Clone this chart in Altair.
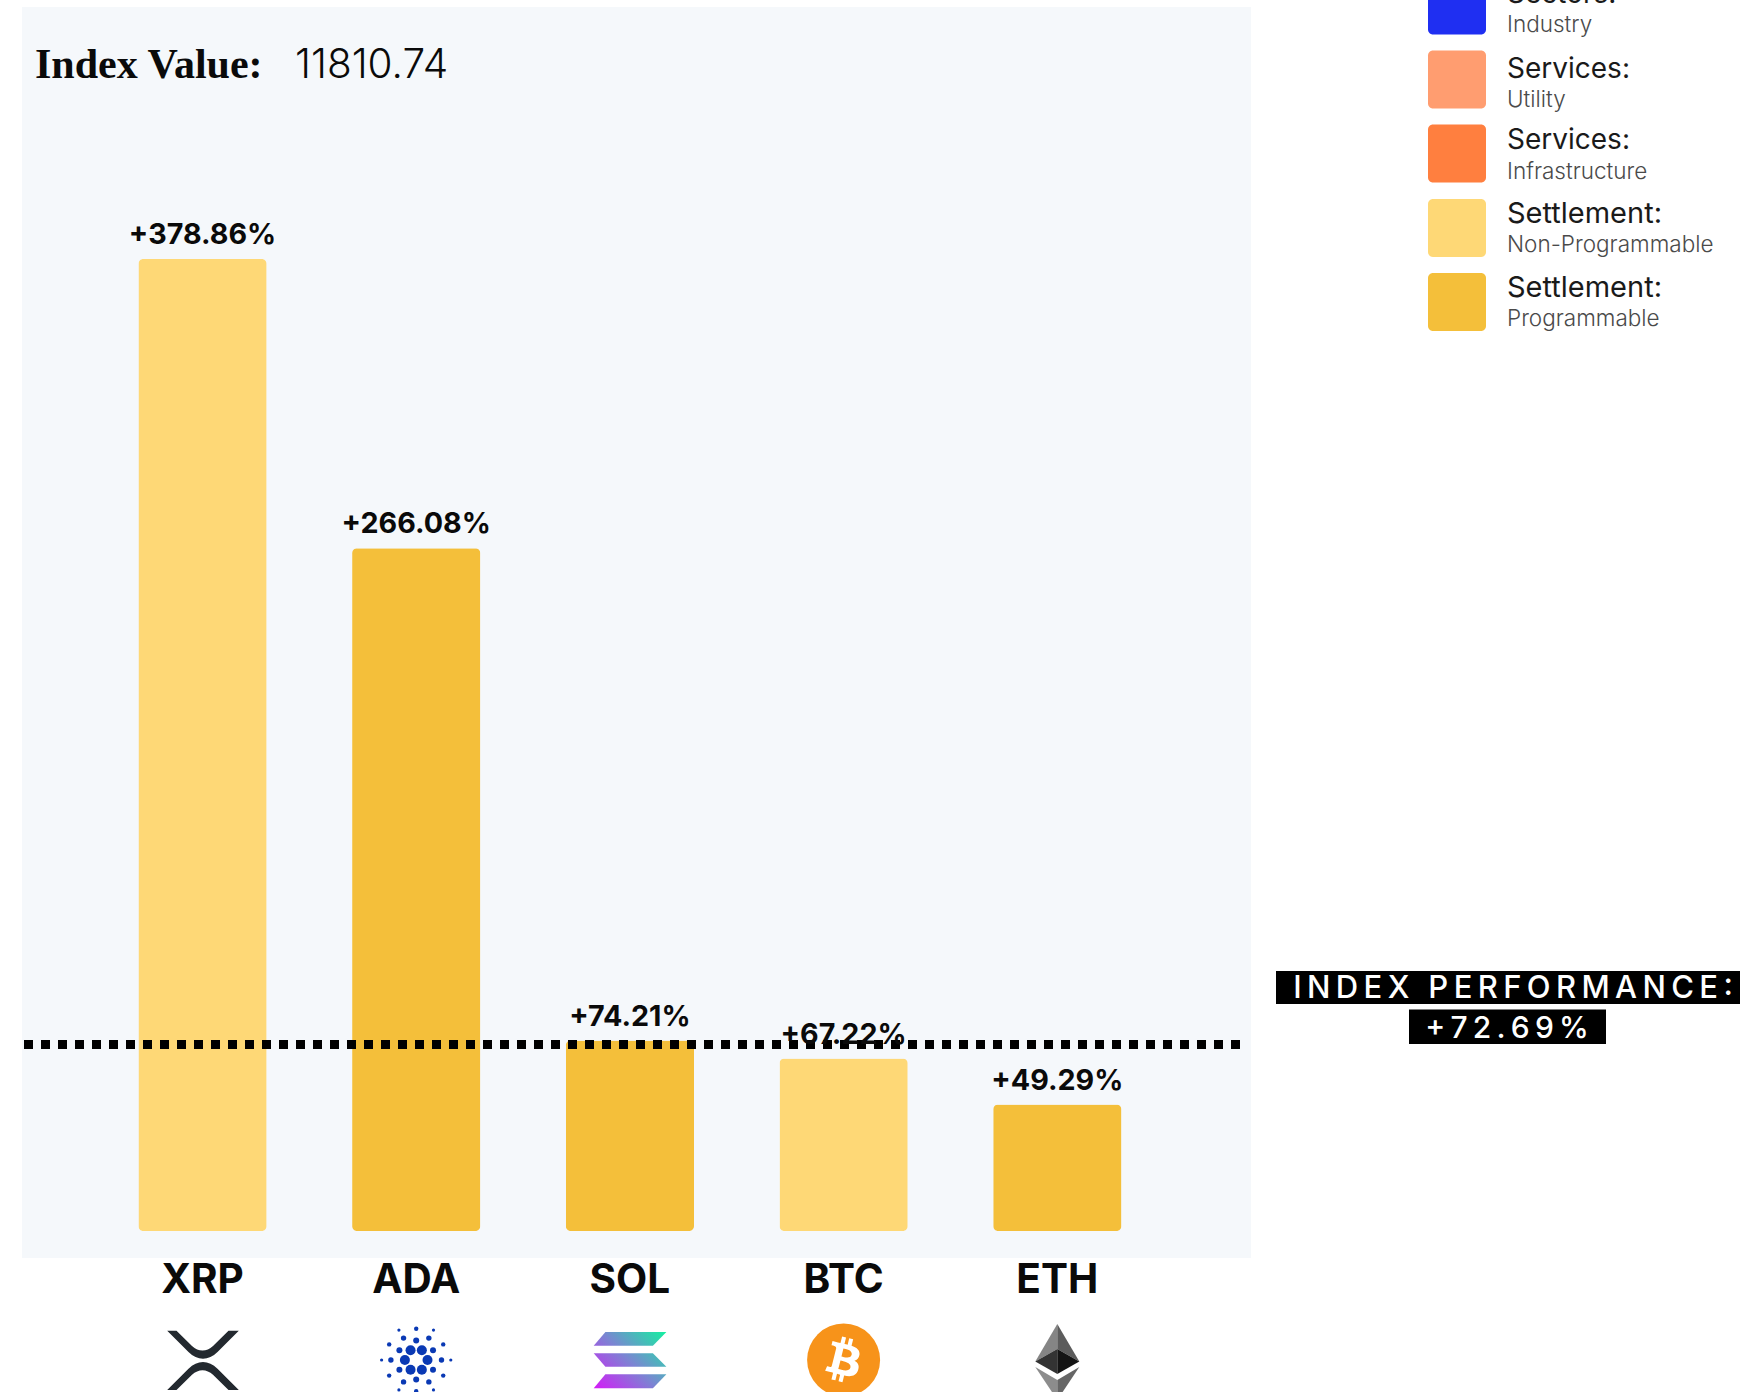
import math
from urllib.parse import quote

import altair as alt
import pandas as pd

# Index constituents and their performance
tickers = ["XRP", "ADA", "SOL", "BTC", "ETH"]
changes = [378.86, 266.08, 74.21, 67.22, 49.29]
sectors = [
    "Settlement: Non-Programmable",
    "Settlement: Programmable",
    "Settlement: Programmable",
    "Settlement: Non-Programmable",
    "Settlement: Programmable",
]
index_value = "11810.74"
index_performance = 72.69

# Sector key
legend_heads = ["Sectors:", "Services:", "Services:", "Settlement:", "Settlement:"]
legend_subs = ["Industry", "Utility", "Infrastructure", "Non-Programmable", "Programmable"]
legend_colors = ["#1f2ff2", "#ff9d70", "#ff7f3f", "#fed876", "#f4bf3a"]

SANS = "Inter"
WIDTH, HEIGHT = 1740, 1392


def svg_uri(body):
    svg = f'<svg xmlns="http://www.w3.org/2000/svg" width="80" height="80" viewBox="0 0 80 80">{body}</svg>'
    return "data:image/svg+xml," + quote(svg)


def cardano_dots():
    rings = [
        (11.3, 0, 5.0), (19.4, 30, 3.0), (25.3, 0, 2.7),
        (31.2, 30, 2.2), (34.6, 0, 1.6),
    ]
    dots = []
    for radius, offset, size in rings:
        for k in range(6):
            a = math.radians(offset + 60 * k)
            dots.append(
                f'<circle cx="{40 + radius * math.cos(a):.2f}" cy="{40 + radius * math.sin(a):.2f}" '
                f'r="{size}" fill="#0a39b4"/>'
            )
    return "".join(dots)


XRP_ICON = (
    '<path fill="#23292f" d="M4.7 10.7H14L29.5 26C36 32 44 32 50.5 26L66 10.7H76.3L55 32C46 41 35 41 26 32Z"/>'
    '<path fill="#23292f" d="M4.7 70.1H14L29.5 54.8C36 48.8 44 48.8 50.5 54.8L66 70.1H76.3L55 48.8C46 39.8 35 39.8 26 48.8Z"/>'
)
SOL_ICON = (
    '<defs><linearGradient id="g" gradientUnits="userSpaceOnUse" x1="8" y1="72" x2="72" y2="8">'
    '<stop offset="0" stop-color="#d41cf7"/><stop offset="0.5" stop-color="#7a86d2"/>'
    '<stop offset="1" stop-color="#14f0a0"/></linearGradient></defs>'
    '<path fill="url(#g)" d="M15.5 12H76.5L63 25.7H3.8Z"/>'
    '<path fill="url(#g)" d="M3.8 33.3H63L76.5 46.7H15.5Z"/>'
    '<path fill="url(#g)" d="M15.5 54.3H76.5L63 68.3H3.8Z"/>'
)
BTC_ICON = (
    '<circle cx="40" cy="40" r="36.5" fill="#f7931a"/>'
    '<g transform="translate(4 4) scale(1.125)"><path fill="#fff" fill-rule="evenodd" '
    'd="M46.103 27.444c.637-4.258-2.605-6.547-7.038-8.074l1.438-5.768-3.511-.875-1.4 5.616c-.923-.23-1.871-.447-2.813-.662'
    'l1.41-5.653-3.509-.875-1.439 5.766c-.764-.174-1.514-.346-2.242-.527l.004-.018-4.842-1.209-.934 3.75s2.605.597 2.55.634'
    'c1.422.355 1.679 1.296 1.636 2.042l-1.638 6.571c.098.025.225.061.365.117l-.371-.092-2.296 9.205c-.174.432-.615 1.08-1.609.834'
    '.035.051-2.552-.637-2.552-.637l-1.743 4.019 4.569 1.139c.85.213 1.683.436 2.503.646l-1.453 5.834 3.507.875 1.439-5.772'
    'c.958.26 1.888.5 2.798.726l-1.434 5.745 3.511.875 1.453-5.823c5.987 1.133 10.489.676 12.384-4.739 1.527-4.36-.076-6.875-3.226-8.515'
    ' 2.294-.529 4.022-2.038 4.483-5.155zM38.08 38.694c-1.085 4.36-8.426 2.003-10.806 1.412l1.928-7.729c2.38.594 10.012 1.77 8.878 6.317z'
    'm1.086-11.313c-.99 3.966-7.1 1.951-9.082 1.457l1.748-7.01c1.982.494 8.365 1.416 7.334 5.553z"/></g>'
)
ETH_ICON = (
    '<path fill="#858585" d="M40 4L18 41.5L40 29Z"/>'
    '<path fill="#5c5c5c" d="M40 4L62 41.5L40 29Z"/>'
    '<path fill="#333" d="M18 41.5L40 29V54Z"/>'
    '<path fill="#141414" d="M62 41.5L40 29V54Z"/>'
    '<path fill="#8c8c8c" d="M18 47L40 60V80Z"/>'
    '<path fill="#666" d="M62 47L40 60V80Z"/>'
)
icons = [XRP_ICON, svg_uri(cardano_dots()), SOL_ICON, BTC_ICON, ETH_ICON]
icons = [i if i.startswith("data:") else svg_uri(i) for i in icons]

bars = pd.DataFrame({
    "ticker": tickers,
    "change": changes,
    "sector": sectors,
    "label": [f"+{c:.2f}%" for c in changes],
    "icon": icons,
})

x_scale = alt.Scale(type="band", domain=tickers, range=[95.65, 1164.15], paddingInner=0.4, paddingOuter=0.2)
y_scale = alt.Scale(domain=[0, changes[0]], range=[1231, 259], nice=False)
x_enc = alt.X("ticker:N", scale=x_scale, axis=None)
y_enc = alt.Y("change:Q", scale=y_scale, axis=None)


def text_at(text, x, y, **style):
    return (
        alt.Chart(pd.DataFrame({"t": [text]}))
        .mark_text(**style)
        .encode(text="t:N", x=alt.value(x), y=alt.value(y))
    )


def box(x0, x1, y0, y1, color, radius=0):
    return (
        alt.Chart(pd.DataFrame({"k": [0]}))
        .mark_rect(color=color, cornerRadius=radius)
        .encode(x=alt.value(x0), x2=alt.value(x1), y=alt.value(y0), y2=alt.value(y1))
    )


panel = box(22, 1251, 7, 1258, "#f5f8fb")

bar_layer = alt.Chart(bars).mark_bar(cornerRadius=5).encode(
    x=x_enc,
    y=y_enc,
    color=alt.Color(
        "sector:N",
        scale=alt.Scale(domain=["Settlement: Non-Programmable", "Settlement: Programmable"],
                        range=[legend_colors[3], legend_colors[4]]),
        legend=None,
    ),
)

value_labels = alt.Chart(bars).mark_text(
    font=SANS, fontSize=28.7, fontWeight=700, color="#0a0a0a", baseline="alphabetic", dy=-15
).encode(x=x_enc, y=y_enc, text="label:N")

benchmark = alt.Chart(pd.DataFrame({"change": [index_performance]})).mark_rule(
    color="#000000", strokeWidth=9, strokeDash=[9, 8]
).encode(y=y_enc, x=alt.value(24), x2=alt.value(1246))

ticker_labels = alt.Chart(bars).mark_text(
    font=SANS, fontSize=40.5, fontWeight=700, color="#0a0a0a", baseline="alphabetic"
).encode(x=x_enc, y=alt.value(1293), text="ticker:N")

logos = alt.Chart(bars).mark_image(width=80, height=80, align="center", baseline="middle").encode(
    x=x_enc, y=alt.value(1360), url="icon:N"
)

title_layers = [
    text_at("Index Value:", 35, 78, font="Liberation Serif", fontSize=42, fontWeight=700,
            color="#0a0a0a", align="left", baseline="alphabetic"),
    text_at(index_value, 295, 78, font=SANS, fontSize=40.5, fontWeight=300,
            color="#0a0a0a", align="left", baseline="alphabetic"),
]

# Sector key: swatch, heading and sub-heading per row
swatch_tops = [-23.5, 50.6, 124.6, 199, 273]
head_baselines = [3, 77.5, 148.5, 222.7, 296.7]
sub_baselines = [31.7, 106.5, 178.5, 252.2, 325.5]
legend_layers = []
for head, sub, color, top, head_y, sub_y in zip(
    legend_heads, legend_subs, legend_colors, swatch_tops, head_baselines, sub_baselines
):
    head_size = 29 if head.startswith("Settlement") else 28
    legend_layers += [
        box(1428, 1486, top, top + 58, color, 5),
        text_at(head, 1507, head_y, font=SANS, fontSize=head_size, fontWeight=400, color="#1a1a1a",
                align="left", baseline="alphabetic"),
        text_at(sub, 1507, sub_y, font=SANS, fontSize=22.5, fontWeight=300, color="#4a4a4a",
                align="left", baseline="alphabetic"),
    ]

# Index performance callout, widely tracked white on black
tracked = "\u2009"
perf_head = f"{tracked} {tracked}".join(tracked.join(word) for word in "INDEX PERFORMANCE:".split(" "))
perf_value = tracked.join(f"+{index_performance:.2f}%")
callout = [
    box(1276, 1740, 971, 1004, "#000000"),
    box(1409, 1606, 1009.5, 1044, "#000000"),
    text_at(perf_head, 1513, 998, font=SANS, fontSize=31, fontWeight=500, color="#ffffff",
            align="center", baseline="alphabetic"),
    text_at(perf_value, 1507, 1038, font=SANS, fontSize=30, fontWeight=500, color="#ffffff",
            align="center", baseline="alphabetic"),
]

chart = (
    alt.layer(
        panel, bar_layer, benchmark, value_labels, ticker_labels, logos,
        *title_layers, *legend_layers, *callout,
    )
    .resolve_scale(x="independent", y="independent", color="independent")
    .properties(width=WIDTH, height=HEIGHT, padding=0, background="#ffffff",
                autosize=alt.AutoSizeParams(type="none"))
    .configure_view(stroke=None)
)

chart.save("out.html", embed_options={"renderer": "svg", "actions": False})
